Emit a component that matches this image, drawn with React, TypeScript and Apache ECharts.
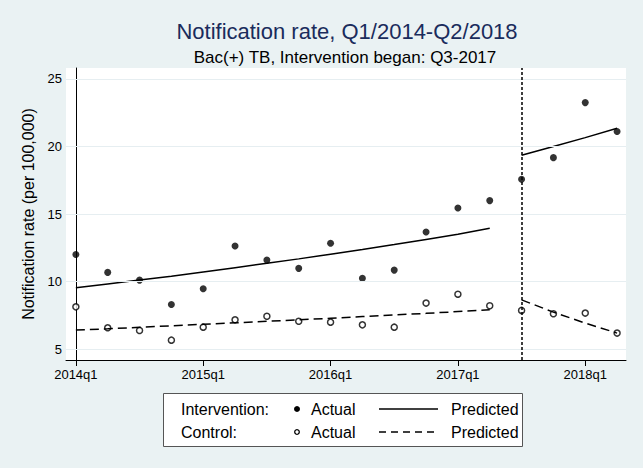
import React, { useEffect, useRef } from "react";
import * as echarts from "echarts";

const quarterLabels = ["2014q1", "2015q1", "2016q1", "2017q1", "2018q1"];
const quarterTicks = [0, 4, 8, 12, 16];
const yTicks = [5, 10, 15, 20, 25];
const interventionStart = 14; // 2017q3

const interventionActual = [12.0, 10.68, 10.11, 8.31, 9.47, 12.63, 11.59, 10.98, 12.83, 10.24, 10.85, 13.67, 15.44, 15.99, 17.57, 19.17, 23.24, 21.1];
const controlActual = [8.13, 6.58, 6.38, 5.67, 6.63, 7.17, 7.44, 7.07, 7.0, 6.8, 6.63, 8.41, 9.07, 8.21, 7.87, 7.62, 7.67, 6.19];

const interventionPredPre = [9.54, 9.82, 10.11, 10.4, 10.71, 11.03, 11.35, 11.68, 12.03, 12.38, 12.74, 13.12, 13.51, 13.94];
const interventionPredPost = [19.35, 20.0, 20.65, 21.35];
const controlPredPre = [6.41, 6.51, 6.62, 6.73, 6.84, 6.95, 7.06, 7.17, 7.29, 7.41, 7.53, 7.65, 7.78, 7.91];
const controlPredPost = [8.65, 7.74, 6.93, 6.19];

const FONT = "'Liberation Sans', Arial, sans-serif";

export default function App() {
  const ref = useRef<HTMLDivElement>(null);
  useEffect(() => {
    if (!ref.current) return;
    const chart = echarts.init(ref.current, null, { renderer: "svg" });
    const pts = (arr: number[], offset: number) => arr.map((v, i) => [i + offset, v]);
    const option: any = {
      animation: false,
      backgroundColor: "#eaf2f3",
      textStyle: { fontFamily: FONT },
      grid: {
        left: 66,
        right: 17,
        top: 68,
        bottom: 108,
        show: true,
        backgroundColor: "#ffffff",
        borderWidth: 0,
      },
      xAxis: {
        type: "value",
        min: -0.31,
        max: 17.28,
        axisLine: { show: true, onZero: false, lineStyle: { color: "#000", width: 1 } },
        axisTick: { show: true, length: 6, customValues: quarterTicks, lineStyle: { color: "#000" } },
        axisLabel: {
          customValues: quarterTicks,
          color: "#000",
          fontSize: 13,
          margin: 8,
          fontFamily: FONT,
          formatter: (v: number) => quarterLabels[quarterTicks.indexOf(Math.round(v))] ?? "",
        },
        splitLine: { show: false },
      },
      yAxis: {
        type: "value",
        min: 4.2,
        max: 25.8,
        name: "Notification rate (per 100,000)",
        nameLocation: "middle",
        nameGap: 30,
        nameTextStyle: { color: "#000", fontSize: 16, fontFamily: FONT },
        axisLine: { show: true, lineStyle: { color: "#000", width: 1 } },
        axisTick: { show: true, length: 6, customValues: yTicks, lineStyle: { color: "#000" } },
        axisLabel: { customValues: yTicks, color: "#000", fontSize: 13, margin: 4, fontFamily: FONT },
        splitLine: { show: false },
      },
      series: [
        {
          type: "line",
          data: [],
          silent: true,
          markLine: {
            silent: true,
            symbol: "none",
            label: { show: false },
            lineStyle: { color: "#e6eef1", width: 1, type: "solid" },
            data: yTicks.map((v) => ({ yAxis: v })),
          },
        },
        {
          type: "line",
          data: [],
          silent: true,
          markLine: {
            silent: true,
            symbol: "none",
            label: { show: false },
            lineStyle: { color: "#000", width: 1.5, type: [3, 2] },
            data: [{ xAxis: interventionStart }],
          },
        },
        {
          name: "Intervention Predicted pre",
          type: "line",
          data: pts(interventionPredPre, 0),
          showSymbol: false,
          lineStyle: { color: "#000", width: 1.5 },
        },
        {
          name: "Intervention Predicted post",
          type: "line",
          data: pts(interventionPredPost, interventionStart),
          showSymbol: false,
          lineStyle: { color: "#000", width: 1.5 },
        },
        {
          name: "Control Predicted pre",
          type: "line",
          data: pts(controlPredPre, 0),
          showSymbol: false,
          lineStyle: { color: "#000", width: 1.5, type: [9, 5] },
        },
        {
          name: "Control Predicted post",
          type: "line",
          data: pts(controlPredPost, interventionStart),
          showSymbol: false,
          lineStyle: { color: "#000", width: 1.5, type: [9, 5] },
        },
        {
          name: "Intervention Actual",
          type: "scatter",
          data: pts(interventionActual, 0),
          symbol: "circle",
          symbolSize: 7,
          itemStyle: { color: "#000" },
        },
        {
          name: "Control Actual",
          type: "scatter",
          data: pts(controlActual, 0),
          symbol: "circle",
          symbolSize: 6,
          itemStyle: { color: "#fff", borderColor: "#000", borderWidth: 1.5 },
        },
      ],
      graphic: [
        {
          type: "text",
          x: 347,
          y: 31,
          style: {
            text: "Notification rate, Q1/2014-Q2/2018",
            fill: "#1a2c5c",
            font: `22px ${FONT}`,
            textAlign: "center",
            textVerticalAlign: "middle",
          },
        },
        {
          type: "text",
          x: 345,
          y: 57,
          style: {
            text: "Bac(+) TB, Intervention began: Q3-2017",
            fill: "#000",
            font: `17px ${FONT}`,
            textAlign: "center",
            textVerticalAlign: "middle",
          },
        },
        {
          type: "rect",
          shape: { x: 163.5, y: 393.5, width: 359, height: 53 },
          style: { fill: "#fff", stroke: "#555", lineWidth: 1 },
        },
        { type: "text", x: 181, y: 409, style: { text: "Intervention:", fill: "#000", font: `16px ${FONT}`, textVerticalAlign: "middle" } },
        { type: "text", x: 181, y: 432, style: { text: "Control:", fill: "#000", font: `16px ${FONT}`, textVerticalAlign: "middle" } },
        { type: "circle", shape: { cx: 297, cy: 409, r: 3 }, style: { fill: "#000" } },
        { type: "circle", shape: { cx: 297, cy: 432, r: 2.3 }, style: { fill: "#fff", stroke: "#000", lineWidth: 1.3 } },
        { type: "text", x: 311, y: 409, style: { text: "Actual", fill: "#000", font: `16px ${FONT}`, textVerticalAlign: "middle" } },
        { type: "text", x: 311, y: 432, style: { text: "Actual", fill: "#000", font: `16px ${FONT}`, textVerticalAlign: "middle" } },
        { type: "line", shape: { x1: 379, y1: 409, x2: 438, y2: 409 }, style: { stroke: "#000", lineWidth: 1.5 } },
        { type: "line", shape: { x1: 379, y1: 432, x2: 438, y2: 432 }, style: { stroke: "#000", lineWidth: 1.5, lineDash: [7, 5] } },
        { type: "text", x: 451, y: 409, style: { text: "Predicted", fill: "#000", font: `16px ${FONT}`, textVerticalAlign: "middle" } },
        { type: "text", x: 451, y: 432, style: { text: "Predicted", fill: "#000", font: `16px ${FONT}`, textVerticalAlign: "middle" } },
      ],
    };
    chart.setOption(option);
    return () => chart.dispose();
  }, []);
  return (
    <div
      ref={ref}
      style={{ position: "absolute", left: 0, top: 0, width: 643, height: 468 }}
    />
  );
}
